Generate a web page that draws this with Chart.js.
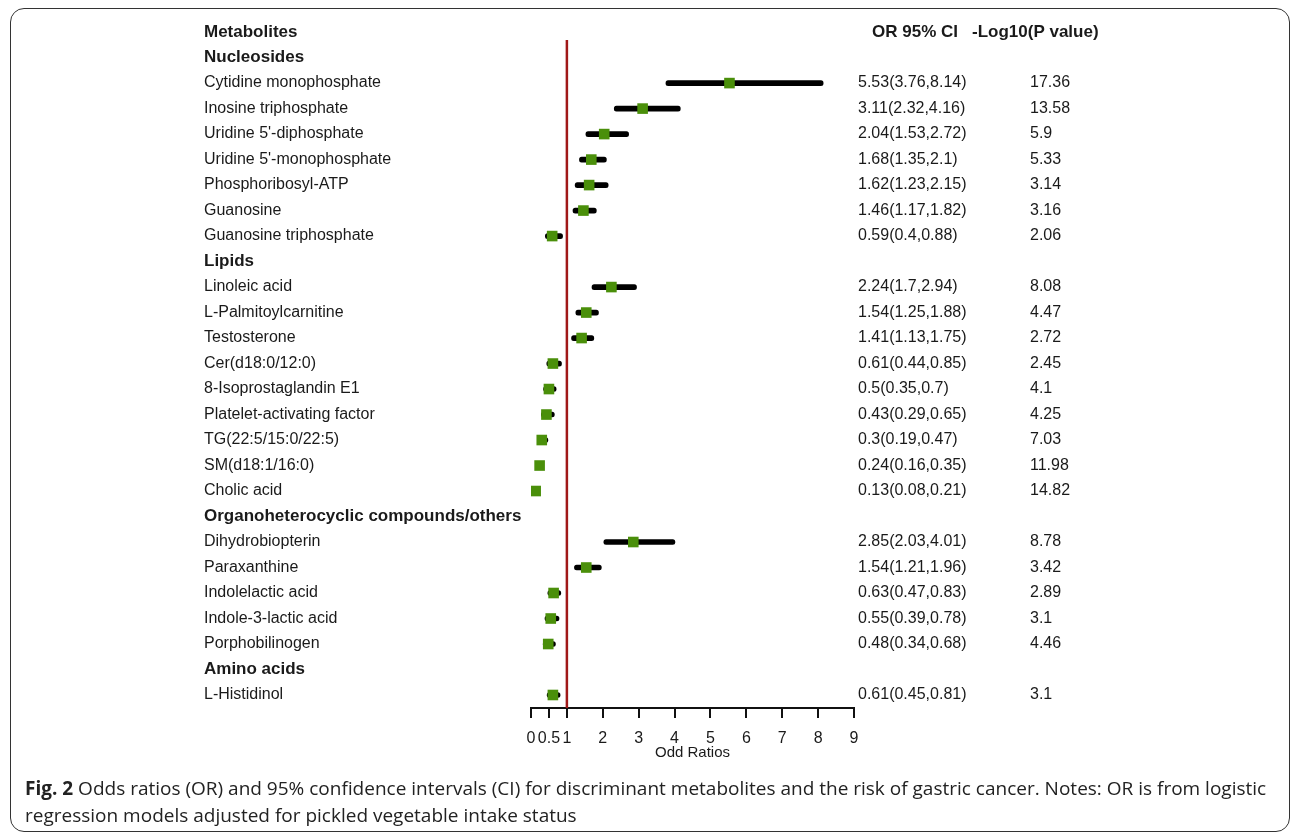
<!DOCTYPE html>
<html>
<head>
<meta charset="utf-8">
<script src="https://cdn.jsdelivr.net/npm/chart.js@4.4.1/dist/chart.umd.min.js"></script>
<style>
  html, body { margin: 0; padding: 0; background: #fff; }
  #wrap { position: relative; width: 1292px; height: 835px; overflow: hidden; }
  #frame { position: absolute; left: 10px; top: 8px; width: 1280px; height: 824px;
           border: 1.5px solid #333; border-radius: 14px; box-sizing: border-box; }
  canvas { position: absolute; left: 0; top: 0; }
  #caption { position: absolute; left: 25px; top: 775px; width: 1265px; white-space: nowrap;
             font-family: "Open Sans", sans-serif; font-size: 19px; line-height: 27px; color: #222; }
  #caption b { font-weight: 700; }
</style>
</head>
<body>
<div id="wrap">
  <div id="frame"></div>
  <canvas id="c" width="1292" height="835"></canvas>
  <div id="caption"><b>Fig. 2</b> Odds ratios (OR) and 95% confidence intervals (CI) for discriminant metabolites and the risk of gastric cancer. Notes: OR is from logistic<br>regression models adjusted for pickled vegetable intake status</div>
</div>
<script>
// ---- data ----
const groups = ['Nucleosides', 'Lipids', 'Organoheterocyclic compounds/others', 'Amino acids'];
const groupSizes = [7, 9, 5, 1];
const metabolites = [
  'Cytidine monophosphate', 'Inosine triphosphate', "Uridine 5'-diphosphate", "Uridine 5'-monophosphate",
  'Phosphoribosyl-ATP', 'Guanosine', 'Guanosine triphosphate',
  'Linoleic acid', 'L-Palmitoylcarnitine', 'Testosterone', 'Cer(d18:0/12:0)', '8-Isoprostaglandin E1',
  'Platelet-activating factor', 'TG(22:5/15:0/22:5)', 'SM(d18:1/16:0)', 'Cholic acid',
  'Dihydrobiopterin', 'Paraxanthine', 'Indolelactic acid', 'Indole-3-lactic acid', 'Porphobilinogen',
  'L-Histidinol'
];
const oddsRatio = [5.53, 3.11, 2.04, 1.68, 1.62, 1.46, 0.59, 2.24, 1.54, 1.41, 0.61, 0.5, 0.43, 0.3, 0.24, 0.13, 2.85, 1.54, 0.63, 0.55, 0.48, 0.61];
const ciLow    = [3.76, 2.32, 1.53, 1.35, 1.23, 1.17, 0.4, 1.7, 1.25, 1.13, 0.44, 0.35, 0.29, 0.19, 0.16, 0.08, 2.03, 1.21, 0.47, 0.39, 0.34, 0.45];
const ciHigh   = [8.14, 4.16, 2.72, 2.1, 2.15, 1.82, 0.88, 2.94, 1.88, 1.75, 0.85, 0.7, 0.65, 0.47, 0.35, 0.21, 4.01, 1.96, 0.83, 0.78, 0.68, 0.81];
const negLog10P = [17.36, 13.58, 5.9, 5.33, 3.14, 3.16, 2.06, 8.08, 4.47, 2.72, 2.45, 4.1, 4.25, 7.03, 11.98, 14.82, 8.78, 3.42, 2.89, 3.1, 4.46, 3.1];
const xTicks = [0, 0.5, 1, 2, 3, 4, 5, 6, 7, 8, 9];
const refValue = 1;
const headerTexts = ['Metabolites', 'OR 95% CI', '-Log10(P value)'];
const axisTitle = 'Odd Ratios';

// ---- build row layout (row 0 = header) ----
const rows = [];
rows.push({ type: 'header' });
let k = 0;
groups.forEach((g, gi) => {
  rows.push({ type: 'group', text: g });
  for (let j = 0; j < groupSizes[gi]; j++) { rows.push({ type: 'item', idx: k }); k++; }
});
const itemRow = [];
rows.forEach((r, ri) => { if (r.type === 'item') itemRow[r.idx] = ri; });
const nRows = rows.length;

const ciData = metabolites.map((m, i) => ({ x: [ciLow[i], ciHigh[i]], y: itemRow[i] }));
const orData = metabolites.map((m, i) => ({ x: oddsRatio[i], y: itemRow[i] }));
const yTop = 0.31, yBottom = nRows - 0.49;
const refLine = [{ x: refValue, y: yTop }, { x: refValue, y: yBottom }];

const FONT = '"Liberation Sans", Arial, sans-serif';
const LABEL_X = 204;
const textPlugin = {
  id: 'tableText',
  afterDraw(chart) {
    const ctx = chart.ctx, ys = chart.scales.y;
    ctx.save();
    ctx.fillStyle = '#1a1a1a';
    ctx.textBaseline = 'middle';
    ctx.textAlign = 'left';
    rows.forEach((r, ri) => {
      const y = ys.getPixelForValue(ri);
      if (r.type === 'header') {
        ctx.font = 'bold 17px ' + FONT;
        ctx.fillText(headerTexts[0], LABEL_X, y);
        ctx.fillText(headerTexts[1], 872, y);
        ctx.fillText(headerTexts[2], 972, y);
      } else if (r.type === 'group') {
        ctx.font = 'bold 17px ' + FONT;
        ctx.fillText(r.text, LABEL_X, y);
      } else {
        const i = r.idx;
        ctx.font = '16px ' + FONT;
        ctx.fillText(metabolites[i], LABEL_X, y);
        ctx.fillText(oddsRatio[i] + '(' + ciLow[i] + ',' + ciHigh[i] + ')', 858, y);
        ctx.fillText(String(negLog10P[i]), 1030, y);
      }
    });
    ctx.restore();
  }
};

new Chart(document.getElementById('c'), {
  type: 'bar',
  data: {
    datasets: [
      { type: 'line', data: refLine, borderColor: '#a01818', borderWidth: 2.5, pointRadius: 0, order: 3 },
      { type: 'bar', indexAxis: 'y', data: ciData, backgroundColor: '#000', barThickness: 5,
        borderSkipped: false, borderRadius: 2.5, order: 2 },
      { type: 'scatter', data: orData, pointStyle: 'rect', pointRadius: 7.5, backgroundColor: '#4a8f0a',
        borderWidth: 0, order: 1 }
    ]
  },
  options: {
    responsive: false,
    animation: false,
    events: [],
    layout: { padding: { left: 531, right: 438, top: 40, bottom: 65 } },
    plugins: { legend: { display: false }, tooltip: { enabled: false } },
    scales: {
      x: {
        type: 'linear', position: 'bottom', min: 0, max: 9, offset: false,
        afterBuildTicks: (s) => { s.ticks = xTicks.map(v => ({ value: v })); },
        afterFit: (s) => { s.height = 62; },
        grid: { offset: false, drawOnChartArea: false, drawTicks: true, tickLength: 10, color: '#111', lineWidth: 2 },
        border: { display: true, color: '#111', width: 2 },
        ticks: { autoSkip: false, maxRotation: 0, padding: 11, color: '#1a1a1a',
                 font: { family: FONT, size: 16 }, callback: (v) => String(v) },
        title: { display: true, text: axisTitle, color: '#1a1a1a', font: { family: FONT, size: 15 },
                 padding: { top: 0, bottom: 8 } }
      },
      y: {
        type: 'linear', reverse: true, min: yTop, max: yBottom, offset: false, display: false,
        grid: { offset: false }
      }
    }
  },
  plugins: [textPlugin]
});
</script>
</body>
</html>
